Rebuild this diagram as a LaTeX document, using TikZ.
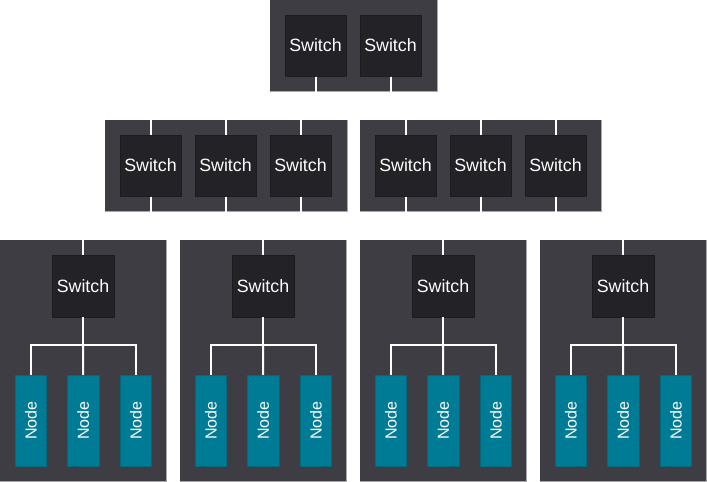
\documentclass[tikz,border=0pt]{standalone}
\usepackage{fontspec}
\setmainfont{Liberation Sans}
\definecolor{contbg}{HTML}{3E3D43}
\definecolor{swbg}{HTML}{232226}
\definecolor{nodebg}{HTML}{007B95}
\definecolor{shadowc}{HTML}{A8A8AC}
\tikzset{
  container/.style={fill=contbg},
  contshadow/.style={fill=shadowc},
  switchbox/.style={fill=swbg, draw=swbg!80!black, line width=0.5pt, minimum width=61.5pt, minimum height=61.5pt, inner sep=0pt, text=white, font=\fontsize{17.8}{17.8}\selectfont},
  hostbox/.style={fill=nodebg, draw=nodebg!85!black, line width=0.5pt, minimum width=31.7pt, minimum height=91pt, inner sep=0pt, text=white, font=\fontsize{16}{16}\selectfont},
  link/.style={draw=white, line width=2pt},
}
\begin{document}
\begin{tikzpicture}[x=1pt, y=-1pt]
\useasboundingbox (0,0) rectangle (707,482);
% containers
\fill[contshadow] (270,0) rectangle (437.5,91.5);
\fill[container] (270,0) rectangle (436.5,90.5);
\fill[contshadow] (105,120) rectangle (347.5,212);
\fill[container] (105,120) rectangle (346.5,211);
\fill[contshadow] (360,120) rectangle (602,212);
\fill[container] (360,120) rectangle (601,211);
\foreach \x in {0,180,360,540} {
  \fill[contshadow] (\x,240) rectangle (\x+167,482);
  \fill[container] (\x,240) rectangle (\x+166,481);
}
% top switches
\node[switchbox] (t1) at (315.5,45.5) {Switch};
\node[switchbox] (t2) at (390.5,45.5) {Switch};
% middle switches
\node[switchbox] (m1) at (150.5,165.5) {Switch};
\node[switchbox] (m2) at (225.5,165.5) {Switch};
\node[switchbox] (m3) at (300.5,165.5) {Switch};
\node[switchbox] (m4) at (405.5,165.5) {Switch};
\node[switchbox] (m5) at (480.5,165.5) {Switch};
\node[switchbox] (m6) at (555.5,165.5) {Switch};
% bottom switches and hosts
\foreach \i/\x in {1/0,2/180,3/360,4/540} {
  \node[switchbox] (b\i) at (\x+83,286) {Switch};
  \node[hostbox] (h\i a) at (\x+30.85,420.5) {\rotatebox{90}{Node}};
  \node[hostbox] (h\i b) at (\x+83.15,420.5) {\rotatebox{90}{Node}};
  \node[hostbox] (h\i c) at (\x+135.85,420.5) {\rotatebox{90}{Node}};
  \coordinate (bus\i) at (\x+83,345);
}
\coordinate (yA) at (0,105);
\coordinate (yB) at (0,225.5);
% top to middle links
\foreach \t in {t1,t2} {
  \foreach \m in {m1,m2,m3,m4,m5,m6} {
    \draw[link] (\t.south) -- (\t.south |- yA) -| (\m.north);
  }
}
% middle to bottom links
\foreach \m in {m1,m2,m3,m4,m5,m6} {
  \foreach \b in {b1,b2,b3,b4} {
    \draw[link] (\m.south) -- (\m.south |- yB) -| (\b.north);
  }
}
% switch to host links
\foreach \i in {1,2,3,4} {
  \draw[link] (b\i.south) -- (bus\i) -| (h\i a.north);
  \draw[link] (bus\i) -| (h\i c.north);
  \draw[link] (bus\i) -- (h\i b.north);
}
\end{tikzpicture}
\end{document}
